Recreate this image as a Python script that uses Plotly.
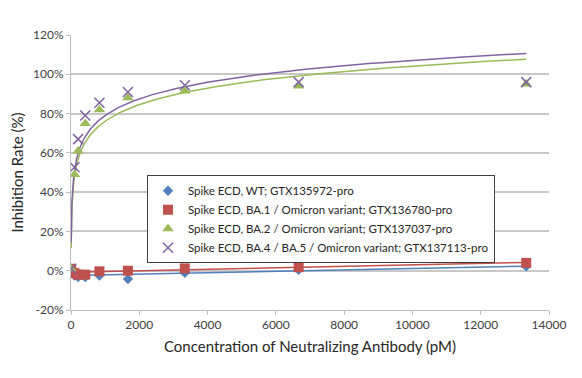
import numpy as np
import plotly.graph_objects as go

# Concentration of neutralizing antibody (pM); first point is the (near) zero blank
concentration = [5, 104, 208, 417, 833, 1667, 3333, 6667, 13333]

# Inhibition rate (%)
wt_values = [1, -2.5, -3.2, -3.2, -2.5, -4.2, -1.0, 0.5, 2.3]
ba1_values = [1, -1.2, -2.0, -2.0, -0.3, 0.0, 1.2, 1.8, 4.0]
ba2_values = [1, 49, 61, 75, 82, 88, 91.5, 94, 95]
ba45_values = [1, 52.7, 67, 79, 85.5, 91, 94.4, 96, 96]

series_names = [
    "Spike ECD, WT; GTX135972-pro",
    "Spike ECD, BA.1 / Omicron variant; GTX136780-pro",
    "Spike ECD, BA.2 / Omicron variant; GTX137037-pro",
    "Spike ECD, BA.4 / BA.5 / Omicron variant; GTX137113-pro",
]

y_tick_values = [-20, 0, 20, 40, 60, 80, 100, 120]
y_tick_labels = ["-20%", "0%", "20%", "40%", "60%", "80%", "100%", "120%"]
x_tick_values = [0, 2000, 4000, 6000, 8000, 10000, 12000, 14000]
x_tick_labels = ["0", "2000", "4000", "6000", "8000", "10000", "12000", "14000"]

colors = ["#4F81BD", "#C0504D", "#9BBB59", "#8064A2"]
symbols = ["diamond", "square", "triangle-up", "x-thin"]
sizes = [8, 10, 10, 10]
fit_kind = ["linear", "linear", "log", "log"]

fig = go.Figure()
x = np.array(concentration, dtype=float)
all_vals = [wt_values, ba1_values, ba2_values, ba45_values]

# trendlines
for vals, c, kind in zip(all_vals, colors, fit_kind):
    y = np.array(vals, dtype=float)
    if kind == "log":
        a, b = np.polyfit(np.log(x), y, 1)
        xs = np.geomspace(x.min(), x.max(), 400)
        ys = a * np.log(xs) + b
    else:
        a, b = np.polyfit(x, y, 1)
        xs = np.linspace(x.min(), x.max(), 50)
        ys = a * xs + b
    fig.add_trace(go.Scatter(x=xs, y=ys, mode="lines", line=dict(color=c, width=1.5),
                             showlegend=False, hoverinfo="skip"))

for vals, name, c, s, sz in zip(all_vals, series_names, colors, symbols, sizes):
    marker = dict(color=c, symbol=s, size=sz)
    if s == "x-thin":
        marker["line"] = dict(color=c, width=1.5)
    fig.add_trace(go.Scatter(x=concentration, y=vals, mode="markers", name=name, marker=marker))

font_family = "Lato, 'Open Sans', sans-serif"

# page body adds an 8px offset, so the figure is sized to fit the remaining window
fig.update_layout(
    width=574, height=370,
    margin=dict(l=63, r=33, t=27, b=68),
    paper_bgcolor="white", plot_bgcolor="white",
    font=dict(family=font_family, color="#404040", size=12),
    showlegend=True,
    legend=dict(
        x=0.159, y=0.49, xanchor="left", yanchor="top",
        bordercolor="#404040", borderwidth=1, bgcolor="white",
        font=dict(size=11.5, color="#262626", family=font_family),
        tracegroupgap=0,
    ),
    xaxis=dict(
        range=[0, 14000], tickvals=x_tick_values, ticktext=x_tick_labels,
        showgrid=False, zeroline=False, automargin=False,
        showline=True, linecolor="#BFBFBF", linewidth=1,
        ticks="outside", ticklen=4, tickcolor="#BFBFBF",
        tickfont=dict(size=12, color="#404040"),
        title=dict(text="Concentration of Neutralizing Antibody (pM)",
                   font=dict(size=15, color="#262626"), standoff=10),
    ),
    yaxis=dict(
        range=[-20, 120], tickvals=y_tick_values, ticktext=y_tick_labels,
        showgrid=True, gridcolor="#C8C8C8", gridwidth=1.5, zeroline=False, automargin=False,
        showline=True, linecolor="#BFBFBF", linewidth=1,
        ticks="outside", ticklen=4, tickcolor="#BFBFBF",
        tickfont=dict(size=12, color="#404040"),
        title=dict(text="Inhibition Rate (%)", font=dict(size=15, color="#262626"), standoff=8),
    ),
)

fig.write_html("out.html")
